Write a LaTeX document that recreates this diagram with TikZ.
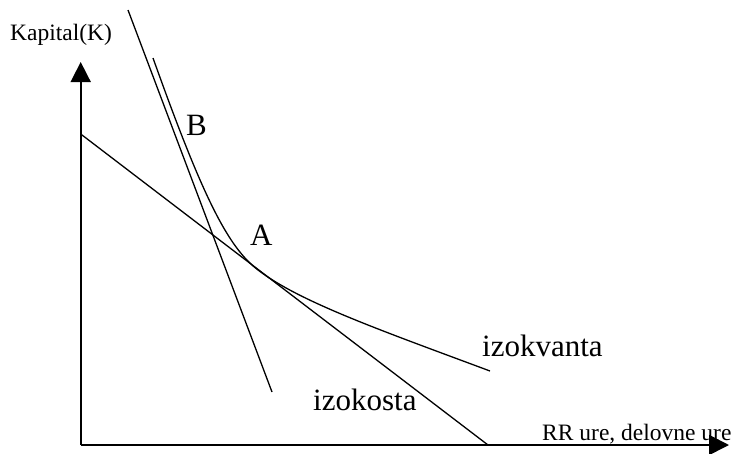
\documentclass[tikz,border=0pt]{standalone}
\usepackage{fontspec}
\setmainfont{Liberation Serif}
\usetikzlibrary{arrows.meta}
\tikzset{
  axis/.style={line width=1.6pt, -{Triangle[length=20pt,width=20pt]}},
  curve/.style={line width=1.3pt},
  smalllbl/.style={inner sep=0pt, anchor=base west, font=\fontsize{23.5}{28}\selectfont},
  biglbl/.style={inner sep=0pt, anchor=base west, font=\fontsize{31}{36}\selectfont},
}
\begin{document}
\begin{tikzpicture}[x=1pt,y=-1pt]
\useasboundingbox (0,0) rectangle (737,453);
% labels (drawn first so the arrow overlaps the text as in the reference)
\node[smalllbl] (kap) at (10,40.5) {Kapital(K)};
\node[smalllbl] (rr) at (542,440) {RR ure, delovne ure};
\node[biglbl] (B) at (186,135) {B};
\node[biglbl] (A) at (250,245) {A};
\node[biglbl] (iq) at (482,356) {izokvanta};
\node[biglbl] (ic) at (313,410) {izokosta};
% axes
\coordinate (O) at (80.7,445);
\coordinate (ytip) at (80.7,62);
\coordinate (xtip) at (729,445);
\draw[axis] (O) -- (ytip);
\draw[axis] (O) -- (xtip);
% isocost
\coordinate (c1) at (80.7,134);
\coordinate (c2) at (488,445);
\draw[curve] (c1) -- (c2);
% steep line
\coordinate (s1) at (128,10);
\coordinate (s2) at (272,392);
\draw[curve] (s1) -- (s2);
% isoquant
\coordinate (q1) at (153,58);
\coordinate (qt) at (258,270);
\coordinate (q2) at (490,371);
\draw[curve] (q1) .. controls (203,198) and (228,247) .. (qt)
             .. controls (300,302) and (380,330) .. (q2);
\end{tikzpicture}
\end{document}
